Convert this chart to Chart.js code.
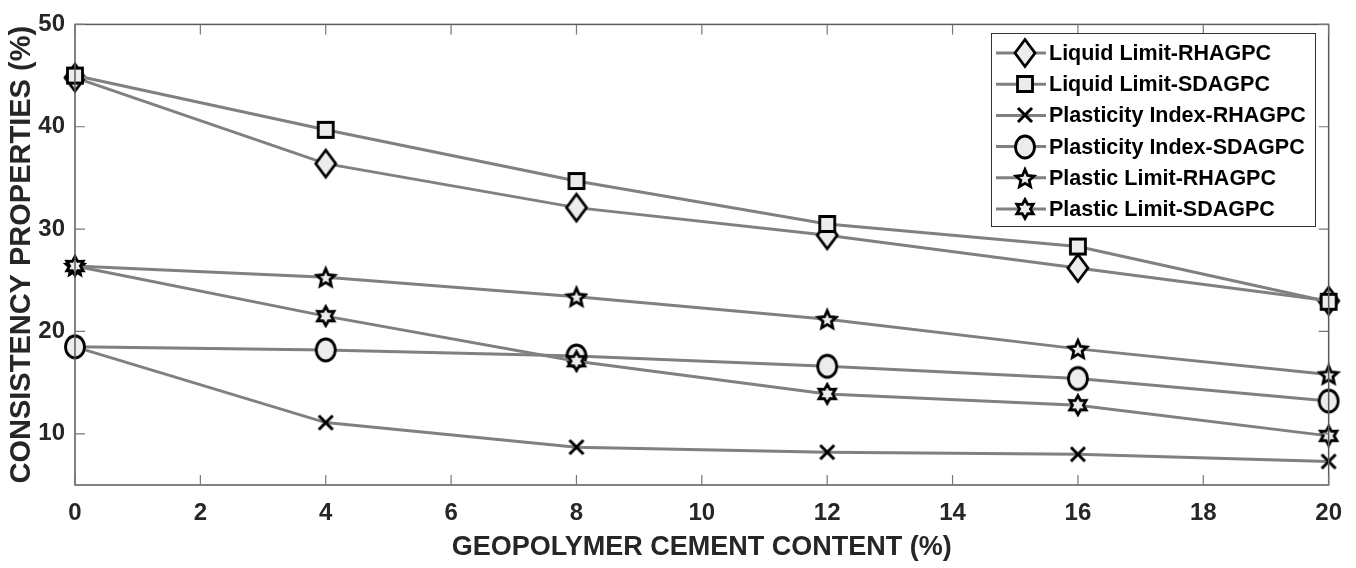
<!DOCTYPE html>
<html><head><meta charset="utf-8">
<script src="https://cdn.jsdelivr.net/npm/chart.js@4.4.0/dist/chart.umd.min.js"></script>
<style>html,body{margin:0;padding:0;background:#fff}#wrap{width:1356px;height:568px;position:relative}</style>
</head><body><div id="wrap"><canvas id="c" width="1356" height="568"></canvas></div>
<script>
const cementContent = [0, 4, 8, 12, 16, 20];
const liquidLimitRHA = [44.8, 36.4, 32.1, 29.4, 26.2, 23.0];
const liquidLimitSDA = [45.0, 39.7, 34.7, 30.5, 28.3, 22.9];
const plasticityIndexRHA = [18.5, 11.1, 8.7, 8.2, 8.0, 7.3];
const plasticityIndexSDA = [18.5, 18.2, 17.6, 16.6, 15.4, 13.2];
const plasticLimitRHA = [26.4, 25.3, 23.4, 21.2, 18.3, 15.8];
const plasticLimitSDA = [26.4, 21.5, 17.1, 13.9, 12.8, 9.8];
const seriesLabels = ['Liquid Limit-RHAGPC', 'Liquid Limit-SDAGPC', 'Plasticity Index-RHAGPC',
  'Plasticity Index-SDAGPC', 'Plastic Limit-RHAGPC', 'Plastic Limit-SDAGPC'];
const xTickValues = [0, 2, 4, 6, 8, 10, 12, 14, 16, 18, 20];
const yTickValues = [10, 20, 30, 40, 50];
const xTitle = 'GEOPOLYMER CEMENT CONTENT (%)';
const yTitle = 'CONSISTENCY PROPERTIES (%)';

const FONT = "'Liberation Sans', Arial, sans-serif";
const LINE = '#808080';
const FILL = '#ececec';

function mk(w, h, draw) {
  const c = document.createElement('canvas');
  c.width = w; c.height = h;
  const g = c.getContext('2d');
  g.lineWidth = 2.8; g.strokeStyle = '#000'; g.fillStyle = FILL; g.lineJoin = 'miter';
  draw(g, w / 2, h / 2);
  return c;
}
function starPath(g, cx, cy, n, ro, ri) {
  g.beginPath();
  for (let i = 0; i < 2 * n; i++) {
    const r = i % 2 === 0 ? ro : ri;
    const a = -Math.PI / 2 + i * Math.PI / n;
    const px = cx + r * Math.cos(a), py = cy + r * Math.sin(a);
    if (i === 0) g.moveTo(px, py); else g.lineTo(px, py);
  }
  g.closePath(); g.fill(); g.stroke();
}
const markers = [
  mk(26, 34, (g, cx, cy) => { g.beginPath(); g.moveTo(cx, cy - 13.5); g.lineTo(cx + 10, cy); g.lineTo(cx, cy + 13.5); g.lineTo(cx - 10, cy); g.closePath(); g.fill(); g.stroke(); }),
  mk(22, 22, (g, cx, cy) => { g.beginPath(); g.rect(cx - 7.5, cy - 7.5, 15, 15); g.fill(); g.stroke(); }),
  mk(20, 20, (g, cx, cy) => { g.lineWidth = 3; g.beginPath(); g.moveTo(cx - 7, cy - 7); g.lineTo(cx + 7, cy + 7); g.moveTo(cx + 7, cy - 7); g.lineTo(cx - 7, cy + 7); g.stroke(); }),
  mk(24, 28, (g, cx, cy) => { g.beginPath(); g.ellipse(cx, cy, 9.5, 11, 0, 0, Math.PI * 2); g.fill(); g.stroke(); }),
  mk(24, 24, (g, cx, cy) => { starPath(g, cx, cy + 1, 5, 9.5, 4.4); }),
  mk(24, 24, (g, cx, cy) => { starPath(g, cx, cy, 6, 9.5, 5.4); })
];

const seriesData = [liquidLimitRHA, liquidLimitSDA, plasticityIndexRHA, plasticityIndexSDA, plasticLimitRHA, plasticLimitSDA];
const datasets = seriesData.map((vals, i) => ({
  label: seriesLabels[i],
  data: cementContent.map((x, j) => ({ x: x, y: vals[j] })),
  borderColor: LINE,
  backgroundColor: FILL,
  borderWidth: 3,
  pointStyle: markers[i],
  pointRadius: 8,
  pointHoverRadius: 8,
  tension: 0,
  order: seriesData.length - i,
  clip: false
}));

const framePlugin = {
  id: 'frame',
  afterDatasetsDraw(chart) {
    const { ctx, chartArea: a, scales } = chart;
    ctx.save();
    ctx.strokeStyle = '#5a5a5a';
    ctx.lineWidth = 1.5;
    ctx.strokeRect(a.left, a.top, a.right - a.left, a.bottom - a.top);
    ctx.lineWidth = 1.2;
    ctx.strokeStyle = '#777';
    const tl = 10;
    ctx.beginPath();
    xTickValues.forEach(v => {
      const px = scales.x.getPixelForValue(v);
      ctx.moveTo(px, a.bottom); ctx.lineTo(px, a.bottom - tl);
      ctx.moveTo(px, a.top); ctx.lineTo(px, a.top + tl);
    });
    yTickValues.forEach(v => {
      const py = scales.y.getPixelForValue(v);
      ctx.moveTo(a.left, py); ctx.lineTo(a.left + tl, py);
      ctx.moveTo(a.right, py); ctx.lineTo(a.right - tl, py);
    });
    ctx.stroke();

    // legend
    const lx = 991, ly = 33, lw = 324, lh = 193;
    ctx.fillStyle = '#fff';
    ctx.fillRect(lx, ly, lw, lh);
    ctx.strokeStyle = '#333';
    ctx.lineWidth = 1;
    ctx.strokeRect(lx + 0.5, ly + 0.5, lw, lh);
    ctx.font = "bold 21.5px " + FONT;
    ctx.textBaseline = 'middle';
    ctx.textAlign = 'left';
    chart.data.datasets.forEach((ds, i) => {
      const cy = 53 + i * 31.2;
      ctx.strokeStyle = LINE; ctx.lineWidth = 3;
      ctx.beginPath(); ctx.moveTo(996, cy); ctx.lineTo(1046, cy); ctx.stroke();
      const m = ds.pointStyle;
      ctx.drawImage(m, Math.round(1025 - m.width / 2), Math.round(cy - m.height / 2));
      ctx.fillStyle = '#000';
      ctx.fillText(ds.label, 1049, cy + 1);
    });
    ctx.restore();
  }
};

new Chart(document.getElementById('c'), {
  type: 'line',
  data: { datasets },
  options: {
    responsive: false,
    animation: false,
    events: [],
    layout: { padding: { top: 16, right: 25, left: 0, bottom: 0 } },
    plugins: { legend: { display: false }, tooltip: { enabled: false } },
    scales: {
      x: {
        type: 'linear', min: 0, max: 20,
        afterBuildTicks: s => { s.ticks = xTickValues.map(v => ({ value: v })); },
        afterFit: s => { s.height = 83; },
        grid: { display: false, drawTicks: false },
        border: { display: false },
        ticks: { padding: 14, color: '#262626', font: { family: FONT, size: 24, weight: 'bold' }, maxRotation: 0 },
        title: { display: true, text: xTitle, color: '#262626', font: { family: FONT, size: 27, weight: 'bold' }, padding: { top: 0, bottom: 4 } }
      },
      y: {
        type: 'linear', min: 5, max: 50,
        afterBuildTicks: s => { s.ticks = yTickValues.map(v => ({ value: v })); },
        afterFit: s => { s.width = 75; },
        grid: { display: false, drawTicks: false },
        border: { display: false },
        ticks: { padding: 10, color: '#262626', font: { family: FONT, size: 24, weight: 'bold' } },
        title: { display: true, text: yTitle, color: '#262626', font: { family: FONT, size: 29, weight: 'bold' }, padding: { top: 5, bottom: 0 } }
      }
    }
  },
  plugins: [framePlugin]
});
</script>
</body></html>
